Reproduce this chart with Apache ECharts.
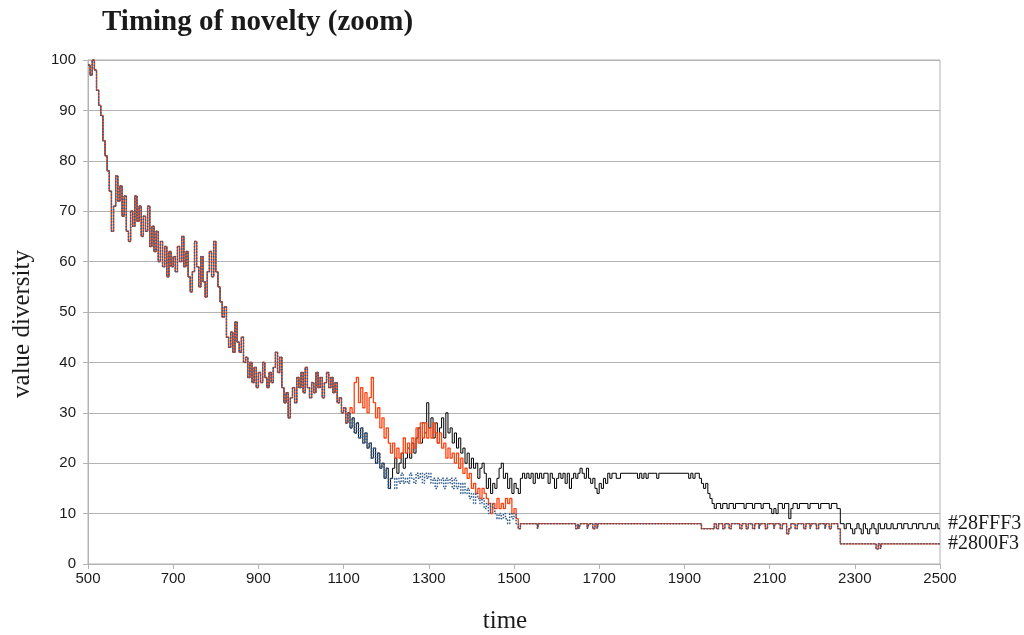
<!DOCTYPE html>
<html>
<head>
<meta charset="utf-8">
<script src="https://cdn.jsdelivr.net/npm/echarts@6/dist/echarts.min.js"></script>
<style>html,body{margin:0;padding:0;background:#fff}#c{width:1024px;height:635px}</style>
</head>
<body>
<div id="c"></div>
<script>
// x tick values
const xTicks = [500, 700, 900, 1100, 1300, 1500, 1700, 1900, 2100, 2300, 2500];
const yTicks = [0, 10, 20, 30, 40, 50, 60, 70, 80, 90, 100];
const seriesNames = ['#28FFF3', '#2800F3', 'third'];

// common part of all three runs, [time, value]
const sharedAll = [
[500,99],[505,97],[510,100],[515,98],[520,94],[525,91],[530,89],[535,84],[540,81],[545,78],
[550,74],[555,66],[560,71],[565,77],[570,72],[575,75],[580,69],[585,73],[590,66],[595,64],
[600,70],[605,67],[610,73],[615,68],[620,71],[625,65],[630,69],[635,66],[640,71],[645,63],
[650,67],[655,62],[660,66],[665,60],[670,64],[675,59],[680,63],[685,57],[690,62],[695,59],
[700,61],[705,58],[710,63],[715,60],[720,65],[725,59],[730,62],[735,57],[740,54],[745,58],
[750,64],[755,59],[760,55],[765,61],[770,56],[775,53],[780,58],[785,62],[790,57],[795,64],
[800,58],[805,55],[810,52],[815,49],[820,51],[825,45],[830,43],[835,46],[840,42],[845,48],
[850,44],[855,42],[860,45],[865,40],[870,41],[875,37],[880,40],[885,36],[890,39],[895,35],
[900,38],[905,36],[910,40],[915,37],[920,35],[925,38],[930,36],[935,39],[940,42],[945,38],
[950,41],[955,35],[960,32],[965,34],[970,29],[975,33],[980,35],[985,32],[990,37],[995,35],
[1000,38],[1005,34],[1010,39],[1015,35],[1020,33],[1025,36],[1030,34],[1035,38],[1040,35],[1045,37],
[1050,33],[1055,36],[1060,38],[1065,35],[1070,37],[1075,34],[1080,36],[1085,32],[1090,33],[1095,30],
[1100,31],[1105,28],[1110,30]
];

// black and blue together until ~1210
const sharedBlackBlue = [
[1115,27],[1120,29],[1125,26],[1130,28],[1135,25],[1140,27],[1145,24],[1150,26],[1155,23],[1160,24],
[1165,21],[1170,23],[1175,20],[1180,22],[1185,19],[1190,20],[1195,17],[1200,19],[1205,15],[1210,17]
];

const blackTail = [
[1215,19],[1220,21],[1225,18],[1230,20],[1235,22],[1240,19],[1245,21],[1250,23],[1255,21],[1260,24],
[1265,22],[1270,25],[1275,27],[1280,24],[1285,28],[1290,26],[1295,32],[1300,27],[1305,29],[1310,25],
[1315,28],[1320,24],[1325,27],[1330,29],[1335,25],[1340,30],[1345,26],[1350,27],[1355,24],[1360,26],
[1365,23],[1370,25],[1375,22],[1380,23],[1385,20],[1390,22],[1395,19],[1400,21],[1405,19],[1410,20],
[1415,17],[1420,19],[1425,20],[1430,18],[1435,15],[1440,17],[1445,14],[1450,16],[1455,15],[1460,17],
[1465,19],[1470,20],[1475,17],[1480,18],[1485,15],[1490,17],[1495,14],[1500,16],[1505,15],[1510,14],
[1515,17],[1520,18],[1525,17],[1530,18],[1535,17],[1540,18],[1545,16],[1550,18],[1555,17],[1560,18],
[1565,17],[1570,18],[1580,16],[1585,18],[1590,17],[1595,15],[1600,17],[1605,18],[1610,17],[1615,18],
[1620,16],[1625,18],[1630,15],[1635,17],[1640,18],[1645,17],[1650,18],[1655,19],[1660,18],[1665,17],
[1670,19],[1675,17],[1680,16],[1685,17],[1690,15],[1695,14],[1700,16],[1705,15],[1710,17],[1715,16],
[1720,18],[1725,17],[1730,18],[1740,17],[1750,18],[1790,17],[1795,18],[1800,17],[1805,18],[1810,17],
[1815,18],[1835,17],[1840,18],[1910,17],[1915,18],[1920,17],[1925,18],[1935,17],[1940,16],[1945,15],
[1950,16],[1955,14],[1960,13],[1965,12],[1970,11],[1975,12],[1985,11],[1990,12],[2000,11],[2005,12],
[2015,11],[2020,12],[2040,11],[2045,12],[2060,11],[2065,12],[2080,11],[2085,12],[2100,11],[2105,10],
[2110,11],[2115,10],[2120,12],[2130,11],[2135,12],[2145,9],[2150,11],[2155,12],[2165,11],[2170,12],
[2190,11],[2195,12],[2215,11],[2220,12],[2240,11],[2245,12],[2258,11],[2266,8],[2275,7],[2280,8],
[2290,7],[2295,6],[2300,7],[2305,8],[2310,7],[2315,6],[2320,8],[2325,7],[2330,6],[2335,7],
[2340,8],[2345,7],[2350,6],[2355,8],[2360,7],[2370,8],[2375,7],[2385,8],[2390,7],[2400,8],
[2410,7],[2415,8],[2425,7],[2435,8],[2445,7],[2450,8],[2460,7],[2470,8],[2480,7],[2490,8],
[2495,7],[2500,7]
];

const redMid = [
[1115,31],[1120,30],[1125,36],[1130,37],[1135,32],[1140,35],[1145,31],[1150,34],[1155,30],[1160,33],
[1165,37],[1170,32],[1175,29],[1180,31],[1185,27],[1190,29],[1195,25],[1200,27],[1205,24],[1210,22],
[1215,24],[1220,21],[1225,23],[1230,21],[1235,22],[1240,25],[1245,22],[1250,24],[1255,22],[1260,25],
[1265,23],[1270,27],[1275,24],[1280,28],[1285,25],[1290,28],[1295,25],[1300,27],[1305,25],[1310,28],
[1315,26],[1320,24],[1325,26],[1330,23],[1335,24],[1340,21],[1345,23],[1350,21],[1355,22],[1360,20],
[1365,22],[1370,19],[1375,21],[1380,18],[1385,19],[1390,17],[1395,18],[1400,15],[1405,16],[1410,14],
[1415,15],[1420,13],[1425,15],[1430,14],[1435,13],[1440,12],[1445,10],[1450,12],[1455,11],[1460,13],
[1465,11],[1470,12],[1475,11],[1480,13],[1485,12],[1490,13],[1495,10],[1500,11],[1505,9],[1510,7]
];

const blueMid = [
[1215,17],[1220,15],[1225,17],[1230,16],[1235,18],[1240,16],[1245,17],[1250,16],[1255,18],[1260,17],
[1265,16],[1270,18],[1275,17],[1280,18],[1285,16],[1290,18],[1295,17],[1300,18],[1305,16],[1310,17],
[1315,15],[1320,17],[1325,16],[1330,17],[1335,15],[1340,17],[1345,16],[1350,17],[1355,15],[1360,17],
[1365,15],[1370,16],[1375,14],[1380,16],[1385,14],[1390,15],[1395,13],[1400,14],[1405,12],[1410,14],
[1415,13],[1420,12],[1425,13],[1430,11],[1435,12],[1440,10],[1445,12],[1450,11],[1455,10],[1460,9],
[1465,10],[1470,9],[1475,10],[1480,9],[1485,8],[1490,10],[1495,9],[1500,10],[1505,8],[1510,7]
];

// red and blue together after ~1515
const lowTail = [
[1515,8],[1555,7],[1558,8],[1645,7],[1650,8],[1652,7],[1656,8],[1672,7],[1676,8],[1685,7],
[1690,8],[1695,7],[1698,8],[1940,7],[1970,8],[1975,7],[1980,8],[1990,7],[1995,8],[2005,7],
[2010,8],[2030,7],[2035,8],[2045,7],[2050,8],[2060,7],[2065,8],[2075,7],[2078,8],[2090,7],
[2095,8],[2110,7],[2113,8],[2125,7],[2130,8],[2140,6],[2145,7],[2150,8],[2160,7],[2165,8],
[2180,7],[2185,8],[2195,7],[2198,8],[2210,7],[2215,8],[2230,7],[2233,8],[2240,7],[2245,8],
[2260,7],[2266,4],[2350,3],[2355,4],[2360,3],[2363,4],[2500,4]
];

const blackData = sharedAll.concat(sharedBlackBlue, blackTail);
const redData = sharedAll.concat(redMid, lowTail);
const blueData = sharedAll.concat(sharedBlackBlue, blueMid, lowTail);

const chart = echarts.init(document.getElementById('c'), null, {renderer: 'canvas'});
const gridColor = '#b3b3b3';
const labelFont = {fontFamily: 'Liberation Serif', fontSize: 20, color: '#1a1a1a'};
chart.setOption({
  animation: false,
  backgroundColor: '#ffffff',
  title: {
    text: 'Timing of novelty (zoom)',
    left: 97, top: 3,
    textStyle: {fontFamily: 'Liberation Serif', fontWeight: 'bold', fontSize: 29, color: '#1a1a1a'}
  },
  grid: {left: 88, right: 84, top: 60, bottom: 71, show: true, borderColor: gridColor, borderWidth: 1,
    containLabel: false, outerBoundsMode: 'none'},
  xAxis: {
    type: 'value', min: xTicks[0], max: xTicks[xTicks.length - 1], interval: 200,
    name: 'time', nameLocation: 'middle', nameGap: 45,
    nameTextStyle: {fontFamily: 'Liberation Serif', fontSize: 25, color: '#1a1a1a', padding: [0, 18, 0, 0]},
    axisLine: {show: true, lineStyle: {color: gridColor}},
    axisTick: {show: true, length: 5, lineStyle: {color: gridColor}},
    splitLine: {show: false},
    axisLabel: {fontFamily: 'Liberation Sans', fontSize: 15, color: '#1a1a1a', margin: 7,
      formatter: function (v) { return String(v); }}
  },
  yAxis: {
    type: 'value', min: yTicks[0], max: yTicks[yTicks.length - 1], interval: 10,
    name: 'value diversity', nameLocation: 'middle', nameGap: 53,
    nameTextStyle: {fontFamily: 'Liberation Serif', fontSize: 25, color: '#1a1a1a', padding: [0, 24, 0, 0]},
    axisLine: {show: true, lineStyle: {color: gridColor}},
    axisTick: {show: true, length: 5, lineStyle: {color: gridColor}},
    splitLine: {show: true, lineStyle: {color: gridColor, width: 1}},
    axisLabel: {fontFamily: 'Liberation Sans', fontSize: 15, color: '#1a1a1a', margin: 12}
  },
  series: [
    {
      name: seriesNames[0], type: 'line', step: 'end', data: blackData, showSymbol: false,
      lineStyle: {color: '#000000', width: 1}, itemStyle: {color: '#000000'},
      endLabel: {show: true, formatter: '{a}', distance: 8, offset: [0, -5], ...labelFont},
      z: 2
    },
    {
      name: seriesNames[1], type: 'line', step: 'end', data: redData, showSymbol: false,
      lineStyle: {color: '#ff420e', width: 1.3}, itemStyle: {color: '#ff420e'},
      endLabel: {show: true, formatter: '{a}', distance: 8, ...labelFont},
      z: 3
    },
    {
      name: seriesNames[2], type: 'line', step: 'end', data: blueData, showSymbol: false,
      lineStyle: {color: '#2e5b8c', width: 1.5, type: 'dotted'}, itemStyle: {color: '#2e5b8c'},
      z: 4
    }
  ]
});
</script>
</body>
</html>
